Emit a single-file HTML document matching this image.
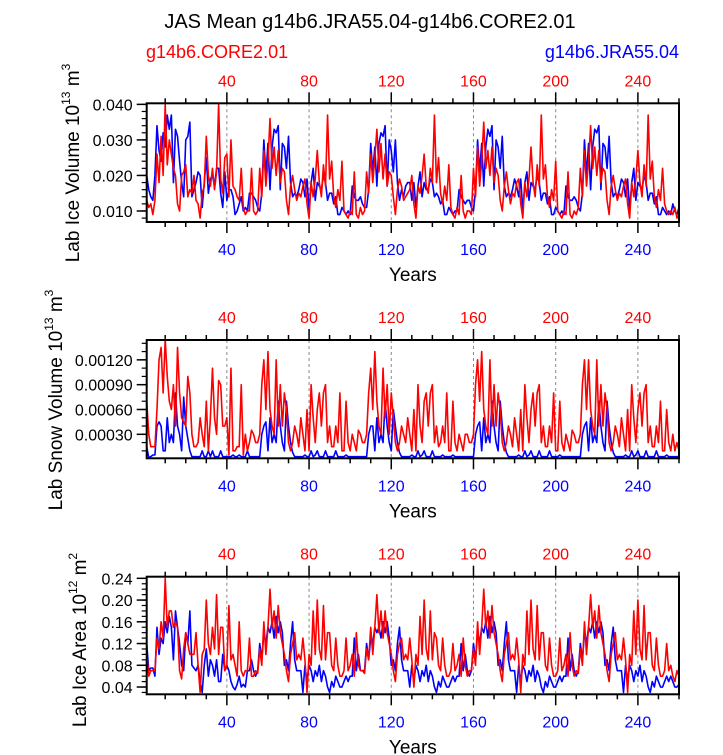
<!DOCTYPE html>
<html><head><meta charset="utf-8"><style>
html,body{margin:0;padding:0;background:#fff;}
svg{display:block;font-family:"Liberation Sans",sans-serif;}
</style></head><body>
<svg id="chart" width="723" height="755" viewBox="0 0 723 755" xmlns="http://www.w3.org/2000/svg">
<text x="370" y="28" font-size="20" text-anchor="middle">JAS Mean g14b6.JRA55.04-g14b6.CORE2.01</text>
<text x="146" y="58" font-size="18" fill="#ff0000">g14b6.CORE2.01</text>
<text x="679" y="58" font-size="18" fill="#0000ff" text-anchor="end">g14b6.JRA55.04</text>
</svg>
<script>
const years = [];
for (let i = 1; i <= 260; i++) years.push(i);
const xTicks = [40, 80, 120, 160, 200, 240];

const iceVolRed = [
.013,.011,.012,.009,.013,.026,.018,.031,.020,.040,.023,.030,.026,.022,.020,.012,.010,.020,.021,.023,.014,.016,.015,.020,.013,.012,.008,.015,.017,.031,.020,.017,.022,.016,.021,.040,.019,.015,.025,.026,.014,.030,.017,.016,.014,.013,.022,.011,.009,.010,.010,.022,
.010,.009,.010,.022,.014,.027,.017,.024,.036,.022,.028,.020,.027,.018,.022,.021,.013,.009,.017,.020,.016,.013,.015,.014,.017,.019,.012,.008,.018,.014,.019,.027,.018,.014,.023,.017,.037,.019,.024,.014,.011,.016,.013,.024,.010,.009,.008,.010,.009,.021,.009,.008,
.011,.009,.010,.021,.015,.026,.018,.025,.033,.021,.029,.019,.026,.017,.021,.020,.014,.009,.016,.019,.017,.013,.014,.015,.016,.020,.012,.008,.017,.015,.020,.026,.017,.015,.022,.018,.037,.018,.025,.015,.012,.017,.013,.023,.011,.009,.008,.011,.009,.020,.010,.008,
.010,.010,.009,.022,.014,.028,.017,.024,.035,.022,.027,.020,.028,.018,.022,.020,.013,.010,.017,.021,.016,.012,.015,.014,.018,.019,.012,.008,.018,.014,.019,.028,.018,.014,.023,.017,.037,.019,.023,.014,.011,.016,.013,.024,.010,.009,.008,.010,.009,.021,.009,.008,
.010,.009,.011,.022,.014,.027,.017,.024,.034,.022,.028,.020,.027,.018,.022,.021,.013,.009,.017,.020,.016,.013,.015,.014,.017,.019,.012,.008,.018,.014,.019,.027,.018,.014,.023,.017,.037,.019,.024,.014,.011,.016,.013,.022,.012,.010,.009,.010,.009,.011,.008,.009];
const iceVolBlue = [
.020,.016,.014,.013,.020,.034,.027,.024,.032,.028,.037,.033,.037,.018,.033,.031,.024,.018,.014,.030,.031,.035,.014,.016,.018,.021,.020,.011,.018,.025,.015,.019,.020,.017,.022,.022,.015,.011,.021,.013,.016,.016,.014,.009,.010,.012,.014,.010,.011,.010,.015,.015,
.014,.013,.011,.010,.015,.030,.020,.029,.016,.028,.033,.032,.034,.016,.029,.028,.022,.031,.018,.014,.015,.014,.016,.019,.018,.014,.019,.010,.018,.022,.013,.018,.017,.016,.020,.018,.013,.015,.015,.012,.014,.009,.009,.011,.010,.009,.010,.009,.017,.014,.013,.013,
.014,.012,.011,.011,.016,.029,.021,.028,.017,.029,.032,.031,.034,.017,.030,.027,.021,.030,.018,.013,.016,.014,.017,.018,.018,.013,.018,.011,.017,.021,.014,.018,.016,.016,.019,.018,.014,.015,.014,.012,.013,.009,.009,.011,.010,.009,.010,.010,.016,.014,.013,.012,
.013,.013,.011,.010,.016,.030,.021,.029,.017,.028,.033,.031,.034,.016,.030,.028,.022,.031,.017,.014,.015,.014,.016,.019,.017,.014,.019,.010,.018,.021,.013,.018,.017,.016,.020,.018,.013,.015,.015,.012,.014,.009,.009,.011,.010,.009,.010,.009,.017,.014,.013,.013,
.014,.013,.011,.010,.015,.030,.020,.029,.016,.028,.033,.032,.034,.016,.029,.028,.022,.031,.018,.014,.015,.014,.016,.019,.018,.014,.019,.010,.018,.022,.013,.018,.017,.016,.020,.018,.013,.015,.015,.012,.014,.009,.009,.011,.010,.009,.010,.009,.012,.010,.009,.011];

const snowRed = [
.0007,.0003,.00015,.00015,.00015,.0006,.0012,.00135,.0008,.00145,.0010,.0007,.0006,.0009,.0004,.00135,.0008,.0005,.00045,.0004,.0010,.0008,.0003,.00015,.00015,.0002,.0005,.0003,.00015,.0007,.0001,.0005,.0011,.0005,.0003,.00095,.0009,.0004,.0004,.0005,.00005,.0011,.0001,.0001,.00015,.00015,.0009,.00005,.0003,.0001,.0002,.00035,
.0003,.0002,.0002,.0003,.0009,.0012,.0006,.0013,.0006,.0004,.0003,.0012,.0004,.0009,.0004,.0008,.0006,.0002,.0001,.0002,.0004,.0003,.00015,.0005,.0003,.0001,.0006,.0001,.0009,.0005,.0002,.0006,.0008,.0004,.0008,.0009,.0002,.0004,.00015,.00015,.0004,.0002,.0008,.0001,.0001,.0007,.0002,.0001,.0003,.0002,.0001,.00035,
.0003,.0002,.0002,.0003,.0008,.0011,.0006,.0013,.0007,.0004,.0003,.0011,.0005,.0009,.0003,.0008,.0005,.0002,.0001,.0002,.0004,.0003,.0002,.0005,.0003,.0001,.0006,.0001,.0009,.0004,.0002,.0007,.0008,.0004,.0008,.0009,.0002,.0004,.00015,.0002,.0004,.0002,.0008,.0001,.0001,.0007,.0002,.0001,.0003,.0002,.0001,.0003,
.0003,.0002,.0002,.0003,.0009,.0012,.0007,.0013,.0006,.0004,.0003,.0012,.0004,.0009,.0004,.0008,.0006,.0002,.0001,.0002,.0004,.0003,.00015,.0005,.0003,.0001,.0006,.0001,.0009,.0005,.0002,.0006,.0008,.0004,.0008,.0009,.0002,.0004,.00015,.00015,.0004,.0002,.0008,.0001,.0001,.0007,.0002,.0001,.0003,.0002,.0001,.00035,
.0003,.0002,.0002,.0003,.0009,.0012,.0006,.0012,.0006,.0004,.0003,.0012,.0004,.0009,.0004,.0008,.0006,.0002,.0001,.0002,.0004,.0003,.00015,.0005,.0003,.0001,.0006,.0001,.0009,.0005,.0002,.0006,.0008,.0004,.0008,.0009,.0002,.0004,.00015,.00015,.0004,.0002,.0007,.0001,.0001,.0006,.0002,.0001,.0003,.0001,.0002,.0001];
const snowBlue = [
.00015,.00002,.00003,.00005,.00005,.0004,.00045,.0004,.0001,.0001,.0005,.0002,.0003,.0002,.0008,.0004,.0003,.0001,.00075,.0004,.00025,.0001,.00003,.00003,.00003,.00003,.00003,.0001,.00003,.00003,.0001,.00003,.0001,.00003,.00003,.00003,.0001,.00003,.00003,.00003,.00003,.00003,.00005,.00003,.00003,.00005,.00003,.00003,.00003,.0001,.00003,.00003,
.00003,.00003,.00003,.00003,.0003,.0004,.00045,.0001,.0005,.0002,.0003,.0002,.0007,.0004,.0002,.0001,.0007,.0004,.0002,.00008,.00003,.00003,.00003,.00003,.00003,.00005,.00003,.00003,.0001,.00003,.00005,.0001,.00003,.00003,.00003,.0001,.00003,.00003,.00003,.00003,.0001,.00003,.00003,.00003,.00003,.00005,.00003,.00003,.00003,.00003,.00003,.00003,
.00003,.00003,.00003,.00003,.0003,.0004,.0004,.0001,.0005,.0002,.0003,.0002,.0007,.0004,.0002,.0001,.0006,.0004,.0002,.00008,.00003,.00003,.00003,.00003,.00003,.00005,.00003,.00003,.0001,.00003,.00005,.0001,.00003,.00003,.00003,.0001,.00003,.00003,.00003,.00003,.00005,.00003,.00003,.00003,.00003,.00005,.00003,.00003,.00003,.00003,.00003,.00003,
.00003,.00003,.00003,.00003,.0003,.0004,.00045,.0001,.0005,.0002,.0003,.0002,.0007,.0004,.0002,.0001,.0007,.0004,.0002,.00008,.00003,.00003,.00003,.00003,.00003,.00005,.00003,.00003,.0001,.00003,.00005,.0001,.00003,.00003,.00003,.0001,.00003,.00003,.00003,.00003,.0001,.00003,.00003,.00003,.00003,.00005,.00003,.00003,.00003,.00003,.00003,.00003,
.00003,.00003,.00003,.00003,.0003,.0004,.00045,.0001,.0005,.0002,.0003,.0002,.0007,.0004,.0002,.0001,.0007,.0004,.0002,.00008,.00003,.00003,.00003,.00003,.00003,.00005,.00003,.00003,.0001,.00003,.00005,.0001,.00003,.00003,.00003,.0001,.00003,.00003,.00003,.00003,.0001,.00003,.00003,.00003,.00003,.00005,.00003,.00003,.00003,.00003,.00003,.00003];

const areaRed = [
.10,.06,.07,.07,.07,.13,.11,.16,.13,.24,.15,.18,.18,.15,.16,.15,.07,.055,.11,.14,.12,.10,.10,.10,.14,.08,.03,.10,.11,.20,.12,.10,.15,.11,.21,.10,.15,.15,.07,.08,.19,.09,.10,.08,.06,.16,.07,.06,.07,.07,.13,.06,
.06,.07,.065,.11,.08,.16,.10,.15,.22,.15,.18,.13,.19,.14,.12,.10,.07,.05,.10,.12,.14,.09,.10,.09,.13,.09,.03,.10,.08,.18,.10,.20,.11,.09,.19,.09,.14,.14,.08,.07,.13,.08,.06,.06,.07,.13,.07,.08,.10,.06,.14,.08,
.07,.07,.065,.11,.09,.15,.10,.15,.21,.14,.18,.13,.18,.14,.12,.10,.07,.05,.10,.12,.13,.09,.10,.09,.13,.09,.04,.10,.08,.17,.10,.20,.11,.09,.18,.09,.14,.13,.08,.07,.13,.08,.06,.06,.07,.12,.07,.08,.10,.06,.13,.08,
.06,.07,.07,.11,.08,.16,.10,.15,.22,.15,.18,.13,.19,.14,.12,.10,.07,.05,.10,.12,.14,.09,.10,.09,.13,.09,.03,.10,.08,.18,.10,.20,.11,.09,.19,.09,.14,.14,.08,.07,.13,.08,.06,.06,.07,.13,.07,.08,.10,.06,.14,.08,
.06,.07,.065,.11,.08,.16,.10,.15,.21,.15,.18,.13,.19,.14,.12,.10,.07,.05,.10,.12,.14,.09,.10,.09,.13,.09,.03,.10,.08,.18,.10,.20,.11,.09,.19,.09,.14,.14,.08,.07,.13,.08,.06,.06,.07,.12,.07,.08,.06,.05,.07,.06];
const areaBlue = [
.12,.07,.075,.075,.06,.15,.10,.13,.12,.16,.14,.17,.15,.09,.18,.15,.12,.08,.07,.14,.12,.18,.08,.075,.07,.08,.05,.03,.08,.11,.06,.09,.08,.06,.09,.05,.05,.10,.07,.08,.07,.05,.04,.035,.045,.06,.04,.045,.04,.07,.07,.09,
.07,.06,.07,.12,.09,.14,.12,.15,.14,.16,.13,.17,.14,.16,.14,.08,.09,.07,.12,.16,.09,.07,.07,.07,.03,.08,.05,.08,.07,.05,.07,.06,.08,.05,.07,.06,.04,.03,.05,.04,.06,.05,.04,.04,.05,.06,.05,.06,.06,.13,.07,.10,
.07,.07,.07,.12,.09,.13,.12,.15,.14,.15,.13,.16,.14,.16,.13,.08,.09,.07,.12,.15,.09,.07,.07,.07,.04,.08,.05,.08,.07,.05,.07,.06,.08,.05,.07,.06,.04,.03,.05,.04,.06,.05,.04,.04,.05,.06,.05,.06,.06,.12,.07,.10,
.07,.06,.07,.12,.09,.14,.12,.15,.14,.16,.13,.17,.14,.16,.14,.08,.09,.07,.12,.16,.09,.07,.07,.07,.03,.08,.05,.08,.07,.05,.07,.06,.08,.05,.07,.06,.04,.03,.05,.04,.06,.05,.04,.04,.05,.06,.05,.06,.06,.13,.07,.10,
.07,.06,.07,.12,.09,.14,.12,.15,.14,.16,.13,.16,.14,.16,.14,.08,.09,.07,.12,.15,.09,.07,.07,.07,.03,.08,.05,.08,.07,.05,.07,.06,.08,.05,.07,.06,.04,.03,.05,.04,.06,.05,.04,.04,.05,.06,.05,.06,.05,.04,.04,.045];

const iceVolTicks = [0.010, 0.020, 0.030, 0.040];
const iceVolTickLabels = ["0.010", "0.020", "0.030", "0.040"];
const snowTicks = [0.0003, 0.0006, 0.0009, 0.0012];
const snowTickLabels = ["0.00030", "0.00060", "0.00090", "0.00120"];
const areaTicks = [0.04, 0.08, 0.12, 0.16, 0.20, 0.24];
const areaTickLabels = ["0.04", "0.08", "0.12", "0.16", "0.20", "0.24"];

const NS = "http://www.w3.org/2000/svg";
const svg = document.getElementById("chart");
function mk(tag, attrs, parent) {
  const e = document.createElementNS(NS, tag);
  for (const k in attrs) e.setAttribute(k, attrs[k]);
  (parent || svg).appendChild(e);
  return e;
}
const X0 = 146.7, X1 = 679, XMIN = 1, XMAX = 260;
function xs(v) { return X0 + (v - XMIN) / (XMAX - XMIN) * (X1 - X0); }

function panel(cfg) {
  const g = mk("g", {});
  
  
  const ys = v => cfg.bot - (v - cfg.ymin) / (cfg.ymax - cfg.ymin) * (cfg.bot - cfg.top);
  xTicks.forEach(t => {
    const l = mk("line", {x1: xs(t), x2: xs(t), y1: cfg.top, y2: cfg.bot, stroke: "#888", "stroke-width": 1, "stroke-dasharray": "3,3"}, g);
    
    
  });
  for (let t = 10; t <= 260; t += 10) {
    const len = (t % 40 === 0) ? 11 : 5;
    const tt = mk("line", {x1: xs(t), x2: xs(t), y1: cfg.top, y2: cfg.top - len, stroke: "#000", "stroke-width": 1.5}, g);
    
    
    const tb = mk("line", {x1: xs(t), x2: xs(t), y1: cfg.bot, y2: cfg.bot + len, stroke: "#000", "stroke-width": 1.5}, g);
    
    
  }
  xTicks.forEach(t => {
    const a = mk("text", {x: xs(t), y: cfg.top - 17, "font-size": 16, fill: "#ff0000", "text-anchor": "middle"}, g);
    a.textContent = t;
    
    
    const b = mk("text", {x: xs(t), y: cfg.bot + 33, "font-size": 16, fill: "#0000ff", "text-anchor": "middle"}, g);
    b.textContent = t;
    
    
  });
  for (let v = cfg.minorStart; v <= cfg.ymax + 1e-12; v += cfg.minor) {
    if (v < cfg.ymin) continue;
    const m = mk("line", {x1: X0, x2: X0 - 5, y1: ys(v), y2: ys(v), stroke: "#000", "stroke-width": 1.2}, g);
    
    
  }
  cfg.ticks.forEach((v, i) => {
    const m = mk("line", {x1: X0, x2: X0 - 10, y1: ys(v), y2: ys(v), stroke: "#000", "stroke-width": 1.5}, g);
    
    
    const t = mk("text", {x: X0 - 14, y: ys(v) + 6, "font-size": 16, "text-anchor": "end"}, g);
    t.textContent = cfg.labels[i];
    
    
  });
  [[cfg.blue, "#0000ff", "jra55-line"], [cfg.red, "#ff0000", "core2-line"]].forEach(s => {
    const pts = s[0].map((v, i) => xs(years[i]).toFixed(2) + "," + ys(v).toFixed(2)).join(" ");
    const p = mk("polyline", {points: pts, fill: "none", stroke: s[1], "stroke-width": 1.6, "stroke-linejoin": "round"}, g);
    
    
  });
  const box = mk("rect", {x: X0, y: cfg.top, width: X1 - X0, height: cfg.bot - cfg.top, fill: "none", stroke: "#000", "stroke-width": 2}, g);
  
  
  const xt = mk("text", {x: (X0 + X1) / 2, y: cfg.bot + 59, "font-size": 19, "text-anchor": "middle"}, g);
  xt.textContent = "Years";
  
  
  const yt = mk("text", {transform: "translate(" + cfg.ytx + "," + cfg.yty + ") rotate(-90)", "font-size": 19, "text-anchor": "middle"}, g);
  yt.innerHTML = cfg.ytitle;
  
  
}

panel({name: "ice-volume-panel", top: 103.3, bot: 222, ymin: 0.0069, ymax: 0.0403, ticks: iceVolTicks, labels: iceVolTickLabels, minor: 0.002, minorStart: 0.008, red: iceVolRed, blue: iceVolBlue, ytx: 79, yty: 163, ytitle: 'Lab Ice Volume 10<tspan font-size="12" dy="-9">13</tspan><tspan dy="9"> m</tspan><tspan font-size="12" dy="-9">3</tspan>'});
panel({name: "snow-volume-panel", top: 340, bot: 458.3, ymin: 0.00001, ymax: 0.00144, ticks: snowTicks, labels: snowTickLabels, minor: 0.0001, minorStart: 0.0001, red: snowRed, blue: snowBlue, ytx: 62, yty: 400, ytitle: 'Lab Snow Volume 10<tspan font-size="12" dy="-9">13</tspan><tspan dy="9"> m</tspan><tspan font-size="12" dy="-9">3</tspan>'});
panel({name: "ice-area-panel", top: 576.7, bot: 694.3, ymin: 0.0266, ymax: 0.243, ticks: areaTicks, labels: areaTickLabels, minor: 0.01, minorStart: 0.03, red: areaRed, blue: areaBlue, ytx: 86, yty: 640, ytitle: 'Lab Ice Area 10<tspan font-size="12" dy="-9">12</tspan><tspan dy="9"> m</tspan><tspan font-size="12" dy="-9">2</tspan>'});
</script>
</body></html>
